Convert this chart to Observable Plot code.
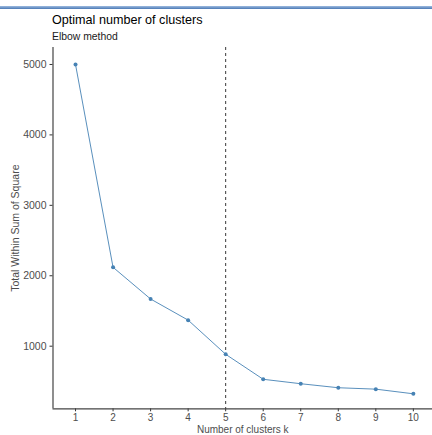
<!DOCTYPE html>
<html><head><meta charset="utf-8">
<script src="https://cdn.jsdelivr.net/npm/d3@7"></script>
<script src="https://cdn.jsdelivr.net/npm/@observablehq/plot@0.6"></script>
<style>
html,body{margin:0;padding:0;background:#fff;overflow:hidden;width:432px;height:435px;}
#hdr{position:relative;height:46px;font-family:"Liberation Sans",Arial,sans-serif;}
#bar{position:absolute;left:0;top:6px;width:432px;height:3px;background:linear-gradient(#9dbbe0,#4a78b4);}
#title{position:absolute;left:52px;top:13.6px;font-size:12.6px;color:#000;line-height:1;white-space:nowrap;}
#sub{position:absolute;left:52px;top:31.5px;font-size:10.4px;color:#1a1a1a;line-height:1;white-space:nowrap;}
#chart svg{display:block;}
</style></head><body>
<div id="hdr"><div id="bar"></div><div id="title"></div><div id="sub"></div></div>
<div id="chart"></div>
<script>
const k = [1, 2, 3, 4, 5, 6, 7, 8, 9, 10];
const wss = [5000, 2120, 1670, 1370, 885, 530, 467, 410, 390, 324];
const optimalK = [5];
const yTicks = [1000, 2000, 3000, 4000, 5000];
const xTicks = [1, 2, 3, 4, 5, 6, 7, 8, 9, 10];
const xDomain = [0.4, 10.51];
const yDomain = [111, 5241];
const titleText = "Optimal number of clusters";
const subtitleText = "Elbow method";
const xLabel = "Number of clusters k";
const yLabel = "Total Within Sum of Square";

document.getElementById("title").textContent = titleText;
document.getElementById("sub").textContent = subtitleText;

const data = k.map((v, i) => ({k: v, wss: wss[i]}));

const chart = Plot.plot({
  width: 432,
  height: 400,
  marginLeft: 52.5,
  marginRight: 0,
  marginTop: 1,
  marginBottom: 37.7,
  style: {fontFamily: "'Liberation Sans', Arial, sans-serif", fontSize: "10.5px", background: "#fff", overflow: "visible"},
  x: {type: "linear", domain: xDomain, labelArrow: "none"},
  y: {type: "linear", domain: yDomain, labelArrow: "none"},
  marks: [
    Plot.axisX({ticks: xTicks, tickSize: 3, tickPadding: 2.3, stroke: "#333", fill: "#4d4d4d", fontSize: 10,
      label: xLabel, labelAnchor: "center", labelOffset: 24.4, labelArrow: "none", tickFormat: d => String(d)}),
    Plot.axisY({ticks: yTicks, tickSize: 3, tickPadding: 3.5, stroke: "#333", fill: "#4d4d4d", fontSize: 10.5,
      label: yLabel, labelAnchor: "center", labelOffset: 41, labelArrow: "none", tickFormat: d => String(d)}),
    Plot.ruleX([xDomain[0]], {stroke: "#444", strokeWidth: 1.2}),
    Plot.ruleY([yDomain[0]], {stroke: "#444", strokeWidth: 1.2}),
    Plot.ruleX(optimalK, {stroke: "#222", strokeWidth: 0.9, strokeDasharray: "3,3"}),
    Plot.line(data, {x: "k", y: "wss", stroke: "steelblue", strokeWidth: 0.9}),
    Plot.dot(data, {x: "k", y: "wss", r: 2, fill: "steelblue", stroke: "none"})
  ]
});
document.getElementById("chart").appendChild(chart);
</script>
</body></html>
